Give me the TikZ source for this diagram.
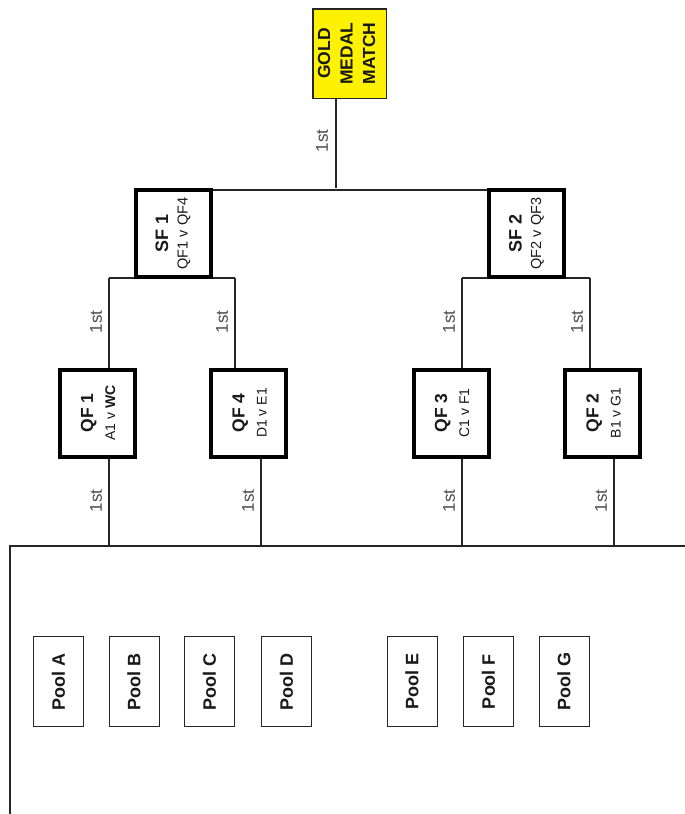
\documentclass[tikz,border=0pt]{standalone}
\usepackage{fontspec}
\setmainfont{Liberation Sans}
\usetikzlibrary{backgrounds}
\begin{document}
\begin{tikzpicture}[x=1pt,y=-1pt,
  conn/.style={draw=black!85, line width=1.1pt},
  bigbox/.style={draw=black, line width=4pt, fill=white, inner sep=0pt, outer sep=0pt, minimum width=75pt, minimum height=87pt},
  poolbox/.style={draw=black!85, line width=1pt, fill=white, inner sep=0pt, outer sep=0pt, minimum width=50pt, minimum height=90pt},
  goldbox/.style={draw=black!85, line width=1.5pt, fill=yellow, inner sep=0pt, outer sep=0pt, minimum width=73.5pt, minimum height=89.5pt},
  boxtext/.style={rotate=90, align=center, text=black!90, inner sep=0pt},
  qftext/.style={boxtext, font=\fontsize{14}{22}\selectfont},
  sftext/.style={boxtext, font=\fontsize{14.5}{19.5}\selectfont},
  pooltext/.style={boxtext, font=\fontsize{18}{20}\bfseries},
  lbl/.style={rotate=90, text=black!70, font=\fontsize{17}{20}\selectfont, inner sep=0pt}
]
\useasboundingbox (0,0) rectangle (685,814);

% boxes
\node[goldbox] (gold) at (349.5,53.5) {};
\node[boxtext, font=\fontsize{17.5}{22.5}\bfseries] (goldtxt) at ([xshift=-3pt]gold.center) {GOLD\\MEDAL\\MATCH};

\node[bigbox] (sf1) at (173,233.5) {};
\node[sftext] (sf1txt) at (sf1.center) {{\fontsize{18}{19.5}\bfseries SF 1}\\QF1 v QF4};
\node[bigbox] (sf2) at (526.5,233.5) {};
\node[sftext] (sf2txt) at (sf2.center) {{\fontsize{18}{19.5}\bfseries SF 2}\\QF2 v QF3};

\node[bigbox] (qf1) at (97,413) {};
\node[qftext] (qf1txt) at ([xshift=1pt]qf1.center) {{\fontsize{17.5}{22}\bfseries QF 1}\\A1 v \textbf{WC}};
\node[bigbox] (qf4) at (248.5,413) {};
\node[qftext] (qf4txt) at ([xshift=1pt]qf4.center) {{\fontsize{17.5}{22}\bfseries QF 4}\\D1 v E1};
\node[bigbox] (qf3) at (451,413) {};
\node[qftext] (qf3txt) at ([xshift=1pt]qf3.center) {{\fontsize{17.5}{22}\bfseries QF 3}\\C1 v F1};
\node[bigbox] (qf2) at (602.5,413) {};
\node[qftext] (qf2txt) at ([xshift=1pt]qf2.center) {{\fontsize{17.5}{22}\bfseries QF 2}\\B1 v G1};

\node[poolbox] (pA) at (58.5,681.5) {};
\node[pooltext] (pAt) at (pA.center) {Pool A};
\node[poolbox] (pB) at (134,681.5) {};
\node[pooltext] (pBt) at (pB.center) {Pool B};
\node[poolbox] (pC) at (209.5,681.5) {};
\node[pooltext] (pCt) at (pC.center) {Pool C};
\node[poolbox] (pD) at (286.5,681.5) {};
\node[pooltext] (pDt) at (pD.center) {Pool D};
\node[poolbox] (pE) at (412,681.5) {};
\node[pooltext] (pEt) at (pE.center) {Pool E};
\node[poolbox] (pF) at (488.5,681.5) {};
\node[pooltext] (pFt) at (pF.center) {Pool F};
\node[poolbox] (pG) at (564,681.5) {};
\node[pooltext] (pGt) at (pG.center) {Pool G};

% labels
\node[lbl] (l0) at (322,141) {1st};
\node[lbl] (l1) at (96,322) {1st};
\node[lbl] (l2) at (222,322) {1st};
\node[lbl] (l3) at (449,322) {1st};
\node[lbl] (l4) at (577,322) {1st};
\node[lbl] (l5) at (96,501) {1st};
\node[lbl] (l6) at (248,501) {1st};
\node[lbl] (l7) at (449,501) {1st};
\node[lbl] (l8) at (601,501) {1st};

% junctions
\coordinate (gj) at (336,188);
\coordinate (a1) at (109,278);
\coordinate (a4) at (235,278);
\coordinate (a3) at (462,278);
\coordinate (a2) at (590,278);
\coordinate (b1) at (109,546);
\coordinate (b4) at (261,546);
\coordinate (b3) at (462,546);
\coordinate (b2) at (614,546);
\coordinate (bl) at (10,546);
\coordinate (br) at (685,546);
\coordinate (bb) at (10,814);

\begin{scope}[on background layer]
\fill[white] (0,0) rectangle (685,814);
\draw[conn] (gold.south -| gj) -- (gj);
\draw[conn] (sf1.north) -- (sf2.north);
\draw[conn] (a1) -- (a4);
\draw[conn] (a1) -- (a1 |- qf1.north);
\draw[conn] (a4) -- (a4 |- qf4.north);
\draw[conn] (a3) -- (a2);
\draw[conn] (a3) -- (a3 |- qf3.north);
\draw[conn] (a2) -- (a2 |- qf2.north);
\draw[conn] (bb) -- (bl) -- (br);
\draw[conn] (b1 |- qf1.south) -- (b1);
\draw[conn] (b4 |- qf4.south) -- (b4);
\draw[conn] (b3 |- qf3.south) -- (b3);
\draw[conn] (b2 |- qf2.south) -- (b2);
\end{scope}
\end{tikzpicture}
\end{document}
